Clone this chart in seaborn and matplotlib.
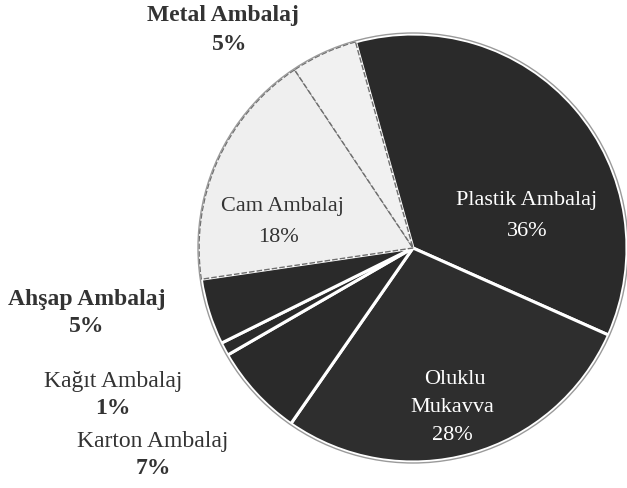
# Packaging waste shares pie chart (scanned-style reproduction)

import numpy as np
import seaborn as sns
import matplotlib
import matplotlib.pyplot as plt

sns.set_theme(style="white")
plt.rcParams['font.family'] = ['Liberation Serif', 'DejaVu Serif']

# data, clockwise from the top
labels = ["Plastik Ambalaj", "Oluklu\nMukavva", "Karton Ambalaj",
          "Kağıt Ambalaj", "Ahşap Ambalaj", "Cam Ambalaj", "Metal Ambalaj"]
shares = [36, 28, 7, 1, 5, 18, 5]
colors = ["#2a2a2a", "#2e2e2e", "#2a2a2a", "#2a2a2a", "#2a2a2a", "#efefef", "#f1f1f1"]
edges = ["white", "white", "white", "white", "white", "#6e6e6e", "#6e6e6e"]

fig = plt.figure(figsize=(6.27, 4.88), dpi=100)
ax = fig.add_axes([0, 0, 1, 1])

wedges, _ = ax.pie(
    shares, colors=colors, startangle=105.6, counterclock=False,
    center=(413, 240), radius=214, frame=True,
    wedgeprops={'linewidth': 2.2, 'edgecolor': 'white'}
)
for w, ec in zip(wedges, edges):
    w.set_edgecolor(ec)
    if ec != "white":
        w.set_linewidth(1.0)
        w.set_linestyle((0, (4, 1.5)))

# thin outer rim
rim = plt.Circle((413, 240), 215, fill=False, color="#9a9a9a", lw=1.0)
ax.add_patch(rim)

ax.set_xlim(0, 627)
ax.set_ylim(0, 488)
ax.set_aspect('equal')
ax.axis('off')

def put(x, y, s, **kw):
    ax.text(x, 488 - y, s, ha='center', va='center', **kw)

# outside labels
bold_kw = dict(fontsize=17, fontweight='bold', color='#333333')
reg_kw = dict(fontsize=17, color='#333333')
put(223, 16, "Metal Ambalaj", **bold_kw)
put(230, 45, "5%", **bold_kw)
put(87, 300, "Ahşap Ambalaj", **bold_kw)
put(87, 326, "5%", **bold_kw)
put(113, 382, "Kağıt Ambalaj", **reg_kw)
put(113, 408, "1%", **bold_kw)
put(153, 441, "Karton Ambalaj", **reg_kw)
put(153, 468, "7%", **bold_kw)

# inside labels
in_kw = dict(fontsize=16)
put(282, 207, "Cam Ambalaj", color='#333333', **in_kw)
put(278, 237, "18%", color='#333333', **in_kw)
put(527, 201, "Plastik Ambalaj", color='white', **in_kw)
put(527, 231, "36%", color='white', **in_kw)
put(455, 380, "Oluklu", color='white', **in_kw)
put(452, 408, "Mukavva", color='white', **in_kw)
put(452, 436, "28%", color='white', **in_kw)

fig.savefig("out.png", dpi=100)
